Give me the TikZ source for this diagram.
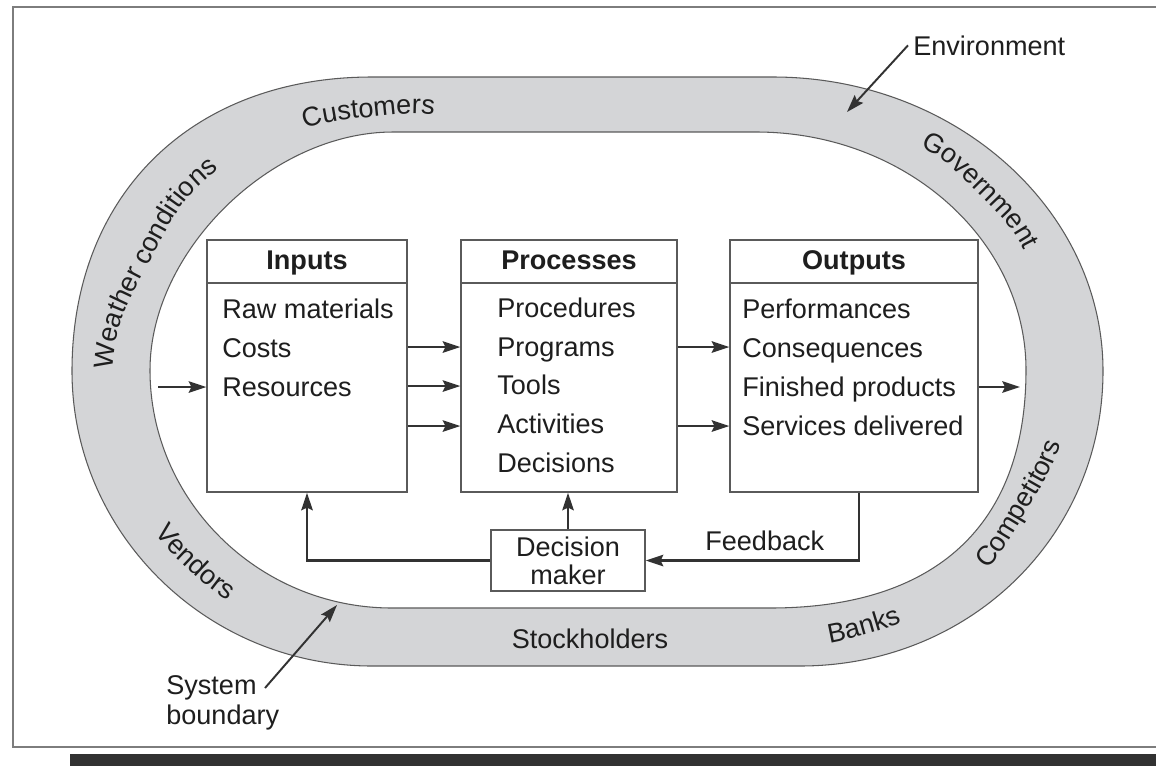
\documentclass[tikz,border=0pt]{standalone}
\usepackage{fontspec}
\setmainfont{Liberation Sans}
\usetikzlibrary{arrows.meta,calc,decorations.text}
\definecolor{ringfill}{RGB}{212,213,215}
\definecolor{ringline}{RGB}{90,90,90}
\definecolor{linecol}{RGB}{50,50,50}
\definecolor{boxcol}{RGB}{90,90,90}
\definecolor{textcol}{RGB}{30,30,30}
\definecolor{framecol}{RGB}{125,125,125}
\newcommand\dgfont{\fontsize{15.4}{18}\selectfont}
% #1 baseline centre, #2 reading direction, #3 bulge direction, #4 radius, #5 half length, #6 text
\newcommand\ringlabel[6]{%
  \pgfmathsetmacro\rlc{(#5)/(#4)*(#5)/2}%
  \coordinate (rlA) at ($(#1)+(#3:-\rlc)+(#2:-#5)$);%
  \coordinate (rlB) at ($(#1)+(#3:-\rlc)+(#2:#5)$);%
  \coordinate (rlC) at ($(#1)+(#3:\rlc)$);%
  \coordinate (rlM) at (#1);%
  \path[decorate,decoration={text along path,text={|\dgfont\color{textcol}|#6},text align=center}]
    (rlA) .. controls ($(rlA)!0.5!(rlC)$) .. (rlM) .. controls ($(rlC)!0.5!(rlB)$) .. (rlB);%
}
\begin{document}
\begin{tikzpicture}[x=0.02cm,y=-0.02cm,
  box/.style={draw=boxcol,line width=0.8pt,fill=white,inner sep=0pt},
  item/.style={anchor=base west,inner sep=0pt,font=\dgfont,text=textcol},
  head/.style={anchor=base,inner sep=0pt,font=\dgfont\bfseries,text=textcol},
  arr/.style={draw=linecol,line width=1.4pt,-{Stealth[length=10pt,width=6.5pt,inset=1.5pt]}},
  conn/.style={draw=linecol,line width=1.4pt},
  rule/.style={draw=boxcol,line width=0.8pt}]
\useasboundingbox (0,0) rectangle (1156,782);
\fill[white] (0,0) rectangle (1156,782);
% frame and bar
\draw[framecol,line width=1pt] (1156,7) -- (13,7) -- (13,747) -- (1156,747);
\fill[linecol] (70,754) rectangle (1156,766);
% ring
\filldraw[fill=ringfill,draw=ringline,line width=0.6pt]
  (72,371) .. controls (72,194.6) and (192,77) .. (372,77) -- (773,77)
  .. controls (954.5,77) and (1103,209.3) .. (1103,371)
  .. controls (1103,536.2) and (969.7,666) .. (800,666) -- (372,666)
  .. controls (207,666) and (72,533.3) .. (72,371) -- cycle;
\filldraw[fill=white,draw=ringline,line width=0.6pt]
  (150,370) .. controls (150,251) and (271.5,132) .. (393,132) -- (756,132)
  .. controls (904.5,132) and (1026,239.1) .. (1026,370)
  .. controls (1026,524.7) and (936.4,608) .. (770,608) -- (392,608)
  .. controls (258.9,608) and (150,500.9) .. (150,370) -- cycle;
% ring labels
\ringlabel{369,117}{354}{264}{350}{95}{Customers}
\ringlabel{150,261}{298}{208}{330}{150}{Weather conditions}
\ringlabel{978,193}{45}{-45}{290}{105}{Government}
\ringlabel{1028,509}{300.5}{30.5}{420}{110}{Competitors}
\ringlabel{866,634}{344}{74}{350}{60}{Banks}
\ringlabel{188.5,569}{43}{133}{300}{70}{Vendors}
\node[item,anchor=base] (stock) at (590,648) {Stockholders};
% boxes
\node[box,minimum width=4cm,minimum height=5.04cm] (inputs) at (307,366) {};
\node[box,minimum width=4.32cm,minimum height=5.04cm] (processes) at (569,366) {};
\node[box,minimum width=4.96cm,minimum height=5.04cm] (outputs) at (854,366) {};
\coordinate (hdr) at (0,283);
\draw[rule] (inputs.west |- hdr) -- (inputs.east |- hdr);
\draw[rule] (processes.west |- hdr) -- (processes.east |- hdr);
\draw[rule] (outputs.west |- hdr) -- (outputs.east |- hdr);
\node[head] (inputsh) at (307,269) {Inputs};
\node[head] (processesh) at (569,269) {Processes};
\node[head] (outputsh) at (854,269) {Outputs};
\foreach \t [count=\i] in {Raw materials,Costs,Resources}
  \node[item] (in\i) at (222,279+39*\i) {\t};
\foreach \t [count=\i] in {Procedures,Programs,Tools,Activities,Decisions}
  \node[item] (pr\i) at (497,279+38.6*\i) {\t};
\foreach \t [count=\i] in {Performances,Consequences,Finished products,Services delivered}
  \node[item] (ou\i) at (742,279+39*\i) {\t};
% decision maker
\node[box,minimum width=3.08cm,minimum height=1.22cm,align=center,
  font=\fontsize{15.4}{15.9}\selectfont,text=textcol] (dm) at (568,560.5) {Decision\\maker};
\node[item] (fb) at (705,550) {Feedback};
% arrows between boxes
\coordinate (r1) at (0,347);
\coordinate (r2) at (0,386);
\coordinate (r3) at (0,426);
\draw[arr] (inputs.east |- r1) -- (processes.west |- r1);
\draw[arr] (inputs.east |- r2) -- (processes.west |- r2);
\draw[arr] (inputs.east |- r3) -- (processes.west |- r3);
\draw[arr] (processes.east |- r1) -- (outputs.west |- r1);
\draw[arr] (processes.east |- r3) -- (outputs.west |- r3);
\coordinate (inL) at (158,387);
\coordinate (outR) at (1020,387);
\draw[arr] (inL) -- (inputs.west |- inL);
\draw[arr] (outputs.east |- outR) -- (outR);
% feedback loop
\draw[arr] ([xshift=0.1cm]outputs.south) |- (dm.east);
\draw[arr] (dm.north) -- (dm.north |- processes.south);
\draw[arr] (dm.west) -| (inputs.south);
% environment and system boundary
\node[item] (env) at (913,55) {Environment};
\coordinate (envtip) at (847,112);
\draw[arr,line width=1.1pt] ([xshift=-0.1cm]env.west) -- (envtip);
\node[item] (sys1) at (166,694) {System};
\node[item] (sys2) at (166,724) {boundary};
\coordinate (sbstart) at (265,688);
\coordinate (sbtip) at (337,605);
\draw[arr,line width=1.1pt] (sbstart) -- (sbtip);
\end{tikzpicture}
\end{document}
